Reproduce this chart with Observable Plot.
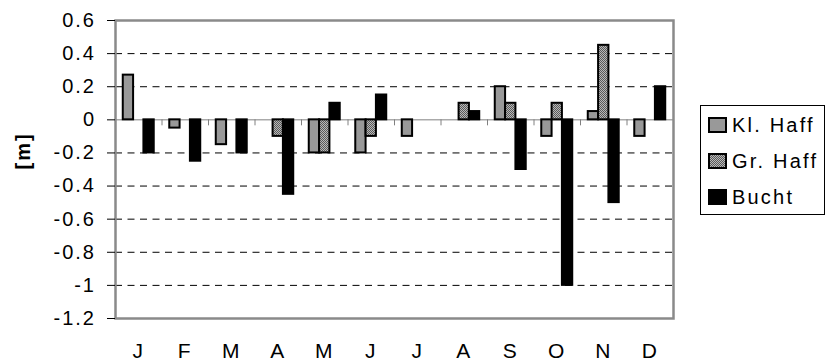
<!DOCTYPE html>
<html>
<head>
<meta charset="utf-8">
<script src="https://cdn.jsdelivr.net/npm/d3@7"></script>
<script src="https://cdn.jsdelivr.net/npm/@observablehq/plot@0.6"></script>
<style>
  body { margin: 0; background: #fff; font-family: "Liberation Sans", Arial, sans-serif; }
  #wrap { position: relative; width: 828px; height: 362px; }
  #wrap > svg { position: absolute; left: 0; top: 0; }
  #legend { position: absolute; left: 700px; top: 105px; width: 125px; height: 110px;
            border: 1px solid #000; box-sizing: border-box; background: #fff; padding-top: 1px; }
  .row { height: 36px; display: flex; align-items: center; padding-left: 7px;
         font-size: 20px; letter-spacing: 2.2px; color: #000; white-space: nowrap; }
  .row svg { margin-right: 5px; flex: none; }
</style>
</head>
<body>
<div id="wrap"></div>
<script>
// ---- data ----
const months = ["J", "F", "M", "A", "M", "J", "J", "A", "S", "O", "N", "D"];
const seriesNames = ["Kl. Haff", "Gr. Haff", "Bucht"];
const klHaff = [0.27, -0.05, -0.15, 0, -0.2, -0.2, -0.1, 0, 0.2, -0.1, 0.05, -0.1];
const grHaff = [0, 0, 0, -0.1, -0.2, -0.1, 0, 0.1, 0.1, 0.1, 0.45, 0];
const bucht = [-0.2, -0.25, -0.2, -0.45, 0.1, 0.15, 0, 0.05, -0.3, -1.0, -0.5, 0.2];
const yTicks = [0.6, 0.4, 0.2, 0, -0.2, -0.4, -0.6, -0.8, -1, -1.2];
const yLabel = "[m]";

// ---- styling ----
const fills = ["#999999", "url(#dots)", "#000000"];
const groupOffset = 0.167, barWidth = 0.222; // in month units

const seriesValues = [klHaff, grHaff, bucht];
const rows = [];
months.forEach((m, i) => seriesValues.forEach((vals, s) => {
  const v = vals[i];
  if (v !== 0) rows.push({
    month: m, series: seriesNames[s], value: v,
    x1: i + groupOffset + s * barWidth,
    x2: i + groupOffset + (s + 1) * barWidth,
    fill: fills[s]
  });
}));

const monthCenters = months.map((m, i) => i + 0.5);
const boundaries = d3.range(1, months.length);

const svg = Plot.plot({
  width: 828,
  height: 362,
  marginLeft: 115,
  marginRight: 155,
  marginTop: 20,
  marginBottom: 44,
  x: { domain: [0, months.length], axis: null },
  y: { domain: [d3.min(yTicks), d3.max(yTicks)], axis: null },
  color: { type: "identity" },
  style: { fontFamily: '"Liberation Sans", Arial, sans-serif', fontSize: "20px", color: "#000", background: "#fff" },
  marks: [
    Plot.ruleY(yTicks.filter(v => v !== 0 && v !== d3.max(yTicks) && v !== d3.min(yTicks)),
      { stroke: "#000", strokeWidth: 1, strokeDasharray: "7,5.5" }),
    Plot.ruleY([0], { stroke: "#808080", strokeWidth: 1 }),
    Plot.ruleX(boundaries, { y1: 0, y2: 0, insetBottom: -6, stroke: "#808080", strokeWidth: 1 }),
    Plot.rectY(rows, { x1: "x1", x2: "x2", y1: 0, y2: "value", fill: "fill", stroke: "#000", strokeWidth: 2 }),
    Plot.frame({ stroke: "#8a8a8a", strokeWidth: 2.5 }),
    Plot.axisY({ ticks: yTicks, tickSize: 8, tickPadding: 11.5, fontSize: 20, label: null,
      tickFormat: d => String(+d.toFixed(1)) }),
    Plot.axisX({ ticks: monthCenters, tickSize: 0, tickPadding: 25, fontSize: 21, label: null,
      tickFormat: d => months[Math.floor(d)] }),
    Plot.text([yLabel], { text: d => d, frameAnchor: "left", dx: -92, rotate: -90,
      fontSize: 20, fontWeight: "bold" })
  ]
});
svg.style.letterSpacing = "2px";

// pattern for the hatched series
function addPattern(root, id) {
  const defs = d3.select(root).insert("defs", ":first-child");
  const p = defs.append("pattern").attr("id", id)
    .attr("width", 2).attr("height", 2).attr("patternUnits", "userSpaceOnUse");
  p.append("rect").attr("width", 2).attr("height", 2).attr("fill", "#b8b8b8");
  p.append("rect").attr("width", 1).attr("height", 1).attr("fill", "#5a5a5a");
  p.append("rect").attr("x", 1).attr("y", 1).attr("width", 1).attr("height", 1).attr("fill", "#5a5a5a");
}
addPattern(svg, "dots");

const wrap = document.getElementById("wrap");
wrap.appendChild(svg);

// legend
const legend = document.createElement("div");
legend.id = "legend";
seriesNames.forEach((name, s) => {
  const row = document.createElement("div");
  row.className = "row";
  const sw = d3.create("svg").attr("width", 19).attr("height", 16);
  if (s === 1) addPattern(sw.node(), "dotsL");
  sw.append("rect").attr("x", 1).attr("y", 1).attr("width", 17).attr("height", 14)
    .attr("fill", s === 1 ? "url(#dotsL)" : fills[s]).attr("stroke", "#000").attr("stroke-width", 2);
  row.appendChild(sw.node());
  const t = document.createElement("span");
  t.textContent = name;
  row.appendChild(t);
  legend.appendChild(row);
});
wrap.appendChild(legend);
</script>
</body>
</html>
